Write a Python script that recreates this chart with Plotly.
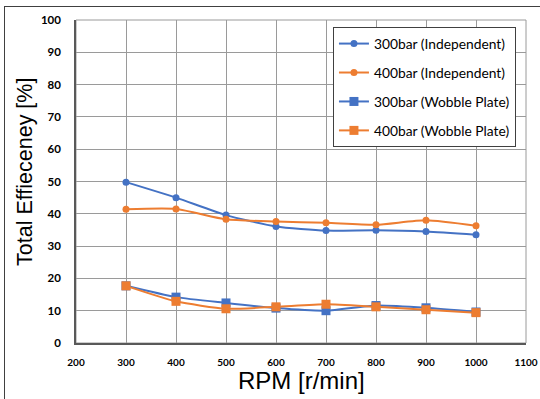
import plotly.graph_objects as go

rpm = [300, 400, 500, 600, 700, 800, 900, 1000]
ind_300 = [49.8, 45.0, 39.6, 36.1, 34.8, 34.9, 34.5, 33.5]
ind_400 = [41.4, 41.5, 38.3, 37.6, 37.2, 36.6, 38.0, 36.3]
wob_300 = [17.7, 14.2, 12.4, 10.8, 10.0, 11.6, 10.9, 9.6]
wob_400 = [17.7, 12.9, 10.6, 11.2, 12.0, 11.2, 10.3, 9.4]

names = ["300bar (Independent)", "400bar (Independent)",
         "300bar (Wobble Plate)", "400bar (Wobble Plate)"]
x_title = "RPM [r/min]"
y_title = "Total Effieceney [%]"
BLUE = "#4472C4"
ORANGE = "#ED7D31"

fig = go.Figure()
series = [
    (ind_300, names[0], BLUE, "circle", 7),
    (ind_400, names[1], ORANGE, "circle", 7),
    (wob_300, names[2], BLUE, "square", 9),
    (wob_400, names[3], ORANGE, "square", 9),
]
for i, (vals, nm, col, sym, sz) in enumerate(series):
    fig.add_trace(go.Scatter(
        x=rpm, y=vals, name=nm, mode="lines+markers",
        line=dict(color=col, width=2, shape="spline", smoothing=0.6),
        marker=dict(color=col, symbol=sym, size=sz),
        legendgroup=f"g{i}",
    ))

tickfont = dict(family="Lato, Liberation Sans, sans-serif", size=11.5, color="#000000", weight="bold")
titlefont = dict(family="Liberation Sans, Arial, sans-serif", color="#000000")

W, H = 450.0, 323.0
def px(xp):
    return (xp - 76) / W
def py(yp):
    return (343 - yp) / H

fig.update_layout(
    width=540, height=399,
    margin=dict(l=76, r=14, t=20, b=56, autoexpand=False),
    paper_bgcolor="white", plot_bgcolor="white",
    showlegend=True,
    legend=dict(
        x=0.571, y=0.978, xanchor="left", yanchor="top",
        bgcolor="white", bordercolor="#404040", borderwidth=1,
        font=dict(family="Lato, Liberation Sans, sans-serif", size=13.8, color="#000000"),
        tracegroupgap=8, traceorder="grouped",
    ),
    xaxis=dict(
        range=[200, 1100], dtick=100, tick0=200,
        showgrid=True, gridcolor="#9a9a9a", gridwidth=1,
        showline=True, linecolor="#595959", linewidth=1.5,
        zeroline=False, tickfont=dict(tickfont, size=10),
        ticklabelstandoff=9, automargin=False,
    ),
    yaxis=dict(
        range=[0, 100], dtick=10,
        showgrid=True, gridcolor="#9a9a9a", gridwidth=1,
        showline=True, linecolor="#595959", linewidth=1.5,
        zeroline=False, tickfont=tickfont,
        ticklabelstandoff=11, automargin=False,
    ),
    annotations=[
        dict(text=x_title, xref="paper", yref="paper", x=0.5, y=py(380),
             xanchor="center", yanchor="middle", showarrow=False,
             font=dict(titlefont, size=24)),
        dict(text=y_title, xref="paper", yref="paper", x=px(25), y=py(172),
             xanchor="center", yanchor="middle", showarrow=False, textangle=-90,
             font=dict(titlefont, size=21.5)),
    ],
    shapes=[
        dict(type="rect", xref="paper", yref="paper", x0=0, x1=1, y0=0, y1=1,
             line=dict(color="#9a9a9a", width=1), layer="below"),
    ],
)

post = (
    "document.body.style.margin='0';document.body.style.overflow='hidden';"
    "var d=document.createElement('div');"
    "d.style.cssText='position:absolute;left:4px;top:6px;width:700px;height:600px;"
    "border-top:1px solid #404040;border-left:1px solid #404040;pointer-events:none;';"
    "document.body.appendChild(d);"
)
fig.write_html("out.html", config={"displayModeBar": False}, post_script=post)
